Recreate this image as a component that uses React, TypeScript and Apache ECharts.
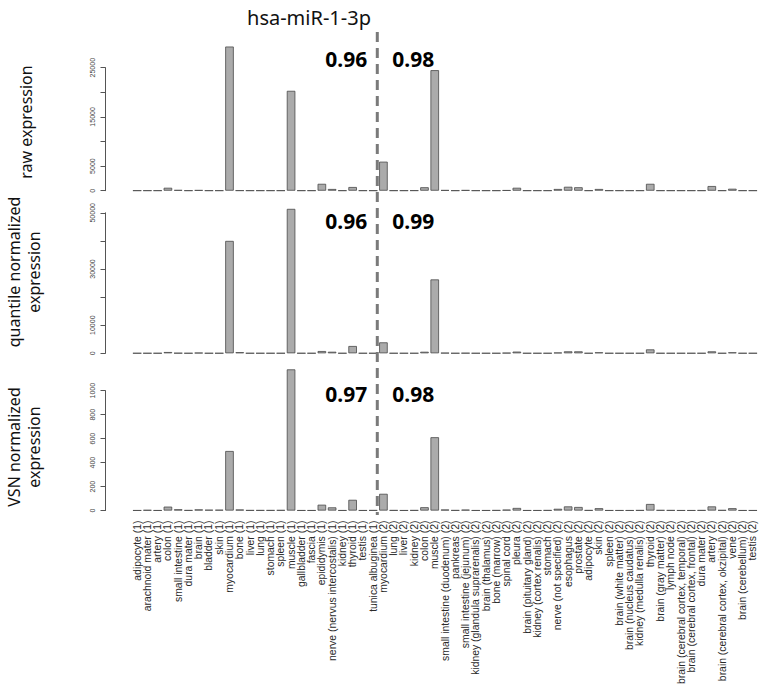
import React, { useEffect, useRef } from "react";
import * as echarts from "echarts";

const CATEGORIES = [
  "adipocyte (1)", "arachnoid mater (1)", "artery (1)", "colon (1)", "small intestine (1)",
  "dura mater (1)", "brain (1)", "bladder (1)", "skin (1)", "myocardium (1)", "bone (1)",
  "liver (1)", "lung (1)", "stomach (1)", "spleen (1)", "muscle (1)", "gallbladder (1)",
  "fascia (1)", "epididymis (1)", "nerve (nervus intercostalis) (1)", "kidney (1)",
  "thyroid (1)", "testis (1)", "tunica albuginea (1)",
  "myocardium (2)", "lung (2)", "liver (2)", "kidney (2)", "colon (2)", "muscle (2)",
  "small intestine (duodenum) (2)", "pankreas (2)", "small intestine (jejunum) (2)",
  "kidney (glandula suprarenalis) (2)", "brain (thalamus) (2)", "bone (marrow) (2)",
  "spinal cord (2)", "pleura (2)", "brain (pituitary gland) (2)", "kidney (cortex renalis) (2)",
  "stomach (2)", "nerve (not specified) (2)", "esophagus (2)", "prostate (2)", "adipocyte (2)",
  "skin (2)", "spleen (2)", "brain (white matter) (2)", "brain (nucleus caudatus) (2)",
  "kidney (medulla renalis) (2)", "thyroid (2)", "brain (gray matter) (2)", "lymph node (2)",
  "brain (cerebral cortex, temporal) (2)", "brain (cerebral cortex, frontal) (2)",
  "dura mater (2)", "artery (2)", "brain (cerebral cortex, okzipital) (2)", "vene (2)",
  "brain (cerebellum) (2)", "testis (2)",
];

const RAW = [
  30, 30, 30, 600, 150, 30, 120, 30, 30, 29300, 40, 30, 30, 30, 30, 20300, 30, 30, 1400, 350,
  30, 750, 30, 30,
  5900, 30, 30, 40, 700, 24500, 120, 30, 120, 30, 30, 30, 100, 600, 30, 30, 30, 350, 800, 700,
  30, 350, 30, 30, 30, 30, 1400, 30, 30, 30, 30, 30, 950, 30, 400, 30, 30,
];

const QUANTILE = [
  40, 40, 40, 450, 100, 40, 200, 40, 40, 40000, 400, 40, 40, 40, 40, 51400, 40, 40, 800, 550,
  40, 2600, 40, 40,
  3900, 40, 40, 40, 550, 26300, 150, 40, 100, 40, 40, 40, 150, 600, 40, 40, 40, 250, 700, 700,
  40, 350, 40, 40, 40, 40, 1400, 40, 40, 40, 40, 40, 700, 40, 350, 40, 40,
];

const VSN = [
  2, 5, 2, 33, 11, 3, 10, 7, 7, 497, 9, 3, 3, 3, 4, 1178, 2, 2, 49, 27, 2, 90, 2, 3,
  140, 3, 2, 3, 28, 612, 9, 3, 8, 2, 2, 3, 8, 22, 2, 2, 3, 15, 35, 30, 3, 20, 2, 2, 2, 3,
  55, 4, 3, 2, 2, 3, 35, 4, 20, 2, 2,
];

const TITLE = "hsa-miR-1-3p";
const PANEL_TITLES = ["raw expression", "quantile normalized\nexpression", "VSN normalized\nexpression"];
const CORR_LEFT = ["0.96", "0.96", "0.97"];
const CORR_RIGHT = ["0.98", "0.99", "0.98"];
const Y_MAX = [25000, 50000, 1000];
const Y_INTERVAL = [5000, 10000, 200];
const Y_HIDDEN_LABELS = [[10000, 20000], [20000, 40000], []];

const PANEL_LAYOUT = [
  { top: 67.7, height: 123, corrY: 59, titleY: 122, titleX: 26 },
  { top: 212.8, height: 140.5, corrY: 221, titleY: 272, titleX: 24 },
  { top: 390.7, height: 122.6, corrY: 394, titleY: 447, titleX: 24 },
];

export default function App() {
  const ref = useRef<HTMLDivElement>(null);

  useEffect(() => {
    if (!ref.current) return;
    const chart = echarts.init(ref.current, null, { renderer: "svg" });
    const DATA = [RAW, QUANTILE, VSN];

    const option: any = {
      animation: false,
      textStyle: { fontFamily: "Liberation Sans, Arial, sans-serif" },
      grid: PANEL_LAYOUT.map((p) => ({ left: 132, right: 6, top: p.top, height: p.height })),
      xAxis: PANEL_LAYOUT.map((_, i) => ({
        type: "category",
        gridIndex: i,
        data: CATEGORIES,
        axisLine: { show: false },
        axisTick: { show: false },
        splitLine: { show: false },
        axisLabel:
          i === 2
            ? {
                show: true,
                interval: 0,
                rotate: 90,
                fontSize: 10.4,
                color: "#2a2a2a",
                fontFamily: "Liberation Sans, Arial, sans-serif",
                margin: 10,
              }
            : { show: false },
      })),
      yAxis: PANEL_LAYOUT.map((_, i) => ({
        type: "value",
        gridIndex: i,
        min: 0,
        max: Y_MAX[i],
        interval: Y_INTERVAL[i],
        offset: 26.5,
        axisLine: { show: true, lineStyle: { color: "#555", width: 1 } },
        axisTick: { show: true, length: 5, lineStyle: { color: "#555", width: 1 } },
        splitLine: { show: false },
        axisLabel: {
          rotate: 90,
          fontSize: 7,
          color: "#444",
          margin: 10,
          fontFamily: "Liberation Sans, Arial, sans-serif",
          formatter: (v: number) => (Y_HIDDEN_LABELS[i].includes(v) ? "" : String(v)),
        },
      })),
      series: DATA.map((d, i) => ({
        type: "bar",
        xAxisIndex: i,
        yAxisIndex: i,
        data: d,
        barCategoryGap: "16.7%",
        clip: false,
        silent: true,
        itemStyle: { color: "#ababab", borderColor: "#4a4a4a", borderWidth: 0.8 },
      })),
    };
    chart.setOption(option);

    const x23 = chart.convertToPixel({ xAxisIndex: 2 }, 23) as number;
    const x24 = chart.convertToPixel({ xAxisIndex: 2 }, 24) as number;
    const xd = (x23 + x24) / 2 - 1;

    const graphics: any[] = [
      {
        type: "text",
        x: 309,
        y: 17,
        style: {
          text: TITLE,
          font: "20px 'Noto Sans', sans-serif",
          fill: "#111",
          textAlign: "center",
          textVerticalAlign: "middle",
        },
      },
      {
        type: "line",
        shape: { x1: xd, y1: 32, x2: xd, y2: 515 },
        style: { stroke: "#7a7a7a", lineWidth: 3, lineDash: [10, 6] },
        z: 10,
      },
    ];
    PANEL_LAYOUT.forEach((p, i) => {
      graphics.push({
        type: "text",
        x: p.titleX,
        y: p.titleY,
        rotation: Math.PI / 2,
        style: {
          text: PANEL_TITLES[i],
          font: "16px 'Noto Sans', sans-serif",
          lineHeight: 20,
          fill: "#111",
          textAlign: "center",
          textVerticalAlign: "middle",
        },
      });
      graphics.push({
        type: "text",
        x: xd - 10,
        y: p.corrY,
        style: {
          text: CORR_LEFT[i],
          font: "bold 21px 'Noto Sans', sans-serif",
          fill: "#000",
          textAlign: "right",
          textVerticalAlign: "middle",
        },
      });
      graphics.push({
        type: "text",
        x: xd + 15,
        y: p.corrY,
        style: {
          text: CORR_RIGHT[i],
          font: "bold 21px 'Noto Sans', sans-serif",
          fill: "#000",
          textAlign: "left",
          textVerticalAlign: "middle",
        },
      });
    });
    chart.setOption({ graphic: graphics });

    return () => chart.dispose();
  }, []);

  return (
    <div
      ref={ref}
      style={{ position: "absolute", left: 0, top: 0, width: 764, height: 687, background: "#fff" }}
    />
  );
}
